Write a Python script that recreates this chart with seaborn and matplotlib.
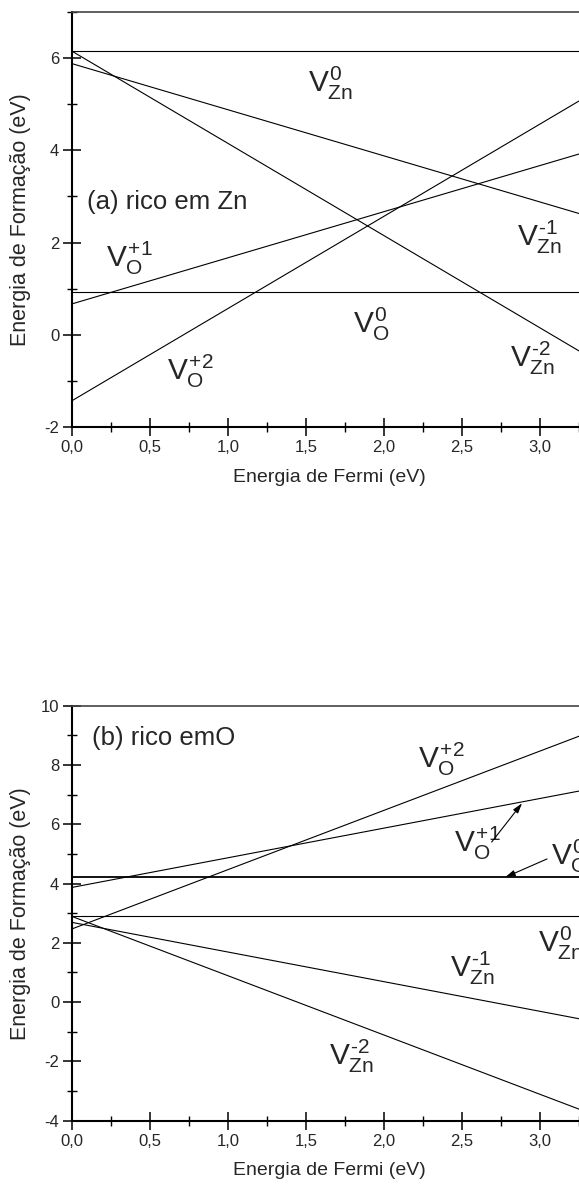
import matplotlib
matplotlib.use("Agg")
import matplotlib.pyplot as plt
from matplotlib.ticker import MultipleLocator, FuncFormatter
import seaborn as sns

# Formation energies (eV) at E_F = 0 (VBM) and E_F = 3.4 eV (CBM)
fermi = [0.0, 3.4]
defects = ["V_Zn^0", "V_Zn^-1", "V_Zn^-2", "V_O^0", "V_O^+1", "V_O^+2"]
zn_rich_vbm = [6.15, 5.88, 6.15, 0.93, 0.67, -1.43]
zn_rich_cbm = [6.15, 2.48, -0.65, 0.93, 4.07, 5.37]
o_rich_vbm = [2.90, 2.69, 2.89, 4.21, 3.87, 2.47]
o_rich_cbm = [2.90, -0.71, -3.91, 4.21, 7.27, 9.27]

sns.set_style("ticks")
plt.rcParams["font.family"] = ["Liberation Sans", "DejaVu Sans"]
plt.rcParams["mathtext.fontset"] = "custom"
plt.rcParams["mathtext.rm"] = "Liberation Sans"
plt.rcParams["mathtext.it"] = "Liberation Sans"
plt.rcParams["mathtext.bf"] = "Liberation Sans:bold"
plt.rcParams["axes.unicode_minus"] = False

fig = plt.figure(figsize=(5.79, 11.86), dpi=100)
W, H = 579, 1186
ax_w = 3.4 * 156 / W
ax_h = 415 / H
ax1 = fig.add_axes([72 / W, (H - 427) / H, ax_w, ax_h])
ax2 = fig.add_axes([72 / W, (H - 1120.7) / H, ax_w, ax_h])


def draw_lines(ax, vbm, cbm, thick=()):
    for name, e0, e1 in zip(defects, vbm, cbm):
        lw = 1.3 if name in thick else 0.8
        sns.lineplot(x=fermi, y=[e0, e1], color="black", linewidth=lw, ax=ax)


def style_axes(ax, ylim):
    ax.set_xlim(0, 3.4)
    ax.set_ylim(*ylim)
    ax.xaxis.set_major_locator(MultipleLocator(0.5))
    ax.xaxis.set_minor_locator(MultipleLocator(0.25))
    ax.yaxis.set_major_locator(MultipleLocator(2))
    ax.yaxis.set_minor_locator(MultipleLocator(1))
    ax.xaxis.set_major_formatter(FuncFormatter(lambda v, _: f"{v:.1f}".replace(".", ",")))
    ax.yaxis.set_major_formatter(FuncFormatter(lambda v, _: f"{v:.0f}"))
    ax.tick_params(which="major", direction="inout", length=12.5, width=1.1,
                   labelsize=12, color="black", pad=3)
    ax.tick_params(which="minor", direction="inout", length=6.5, width=1.0, color="black")
    for side in ("left", "bottom"):
        ax.spines[side].set_linewidth(1.5)
        ax.spines[side].set_color("black")
    ax.spines["top"].set_visible(True)
    ax.spines["top"].set_linewidth(1.2)
    ax.spines["top"].set_color("#444444")
    ax.spines["right"].set_visible(False)
    ax.set_xlabel("Energia de Fermi (eV)", fontsize=14)
    ax.set_ylabel("Energia de Formação (eV)", fontsize=15.5)
    ax.xaxis.set_label_coords(0.4855, -0.1)
    ax.yaxis.set_label_coords(-0.0773, 0.5)


draw_lines(ax1, zn_rich_vbm, zn_rich_cbm)
draw_lines(ax2, o_rich_vbm, o_rich_cbm, thick=("V_O^0",))
style_axes(ax1, (-2, 7))
style_axes(ax2, (-4, 10))

LBL = 21.5
HY = "\u2010"

top_labels = [
    (r"$V_{Zn}^{0}$", 1.51, 5.26),
    (r"$V_{Zn}^{" + HY + "1}$", 2.85, 1.93),
    (r"$V_{Zn}^{" + HY + "2}$", 2.81, -0.70),
    (r"$V_{O}^{0}$", 1.80, 0.03),
    (r"$V_{O}^{+1}$", 0.22, 1.46),
    (r"$V_{O}^{+2}$", 0.61, -0.98),
]
for txt, x, y in top_labels:
    ax1.text(x, y, txt, fontsize=LBL, ha="left", va="baseline")
ax1.text(0.096, 2.73, "(a) rico em Zn", fontsize=18.5, ha="left", va="baseline")

bottom_labels = [
    (r"$V_{O}^{+2}$", 2.22, 7.90),
    (r"$V_{O}^{+1}$", 2.45, 5.06),
    (r"$V_{O}^{0}$", 3.07, 4.62),
    (r"$V_{Zn}^{0}$", 2.99, 1.69),
    (r"$V_{Zn}^{" + HY + "1}$", 2.42, 0.85),
    (r"$V_{Zn}^{" + HY + "2}$", 1.65, -2.12),
]
for txt, x, y in bottom_labels:
    ax2.text(x, y, txt, fontsize=LBL, ha="left", va="baseline")
ax2.text(0.128, 8.67, "(b) rico emO", fontsize=18.5, ha="left", va="baseline")

arrow = dict(arrowstyle="-|>,head_length=0.6,head_width=0.18", color="black",
             lw=0.8, shrinkA=0, shrinkB=0)
ax2.annotate("", xy=(2.885, 6.71), xytext=(2.69, 5.40), arrowprops=arrow)
ax2.annotate("", xy=(2.776, 4.21), xytext=(3.045, 4.83), arrowprops=arrow)

fig.savefig("out.png", dpi=100)
